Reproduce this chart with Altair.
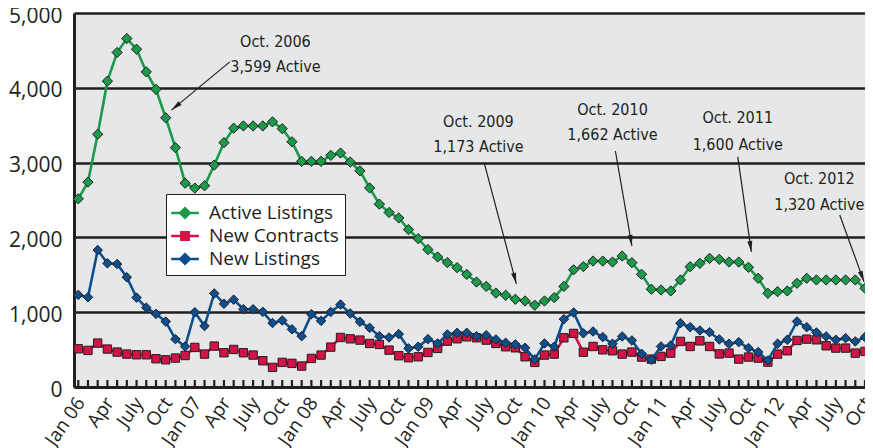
import math
import altair as alt
import pandas as pd

# ---------------- data ----------------
months = list(range(82))  # 0 = Jan 2006 ... 81 = Oct 2012

active_listings = [
    2516, 2739, 3379, 4089, 4472, 4659, 4516, 4213, 3979, 3599, 3200, 2725,
    2659, 2690, 2967, 3267, 3460, 3490, 3490, 3490, 3545, 3453, 3278, 3017,
    3017, 3017, 3097, 3128, 3008, 2890, 2661, 2445, 2333, 2260, 2105, 1983,
    1837, 1738, 1663, 1595, 1505, 1403, 1345, 1256, 1226, 1173, 1150, 1093,
    1150, 1195, 1345, 1567, 1610, 1684, 1684, 1671, 1751, 1662, 1507, 1307,
    1297, 1284, 1431, 1608, 1653, 1720, 1707, 1671, 1671, 1600, 1453, 1253,
    1275, 1284, 1387, 1453, 1431, 1431, 1431, 1431, 1431, 1320,
]
new_contracts = [
    511, 489, 587, 507, 467, 440, 431, 431, 378, 364, 387, 421,
    529, 440, 547, 458, 502, 458, 427, 351, 262, 329, 316, 280,
    382, 427, 533, 662, 644, 627, 582, 569, 493, 418, 391, 404,
    462, 516, 613, 645, 671, 658, 627, 582, 538, 524, 404, 329,
    427, 440, 658, 716, 465, 542, 497, 484, 440, 467, 400, 373,
    409, 453, 609, 542, 617, 542, 442, 453, 373, 400, 387, 333,
    440, 484, 622, 640, 631, 551, 520, 520, 453, 476,
]
new_listings = [
    1231, 1200, 1831, 1653, 1644, 1467, 1195, 1061, 977, 875, 640, 541,
    1000, 815, 1251, 1113, 1168, 1040, 1040, 1005, 855, 890, 771, 680,
    973, 884, 1004, 1102, 982, 871, 791, 680, 662, 707, 516, 538,
    640, 582, 702, 724, 724, 680, 693, 636, 591, 569, 524, 369,
    582, 538, 907, 996, 718, 742, 667, 578, 676, 622, 444, 364,
    542, 556, 853, 800, 756, 733, 636, 578, 600, 520, 467, 356,
    578, 631, 876, 800, 729, 676, 631, 653, 609, 667,
]

tick_labels = [
    "Jan 06", "Apr", "July", "Oct", "Jan 07", "Apr", "July", "Oct",
    "Jan 08", "Apr", "July", "Oct", "Jan 09", "Apr", "July", "Oct",
    "Jan 10", "Apr", "July", "Oct", "Jan 11", "Apr", "July", "Oct",
    "Jan 12", "Apr", "July", "Oct",
]
tick_values = [3 * i for i in range(len(tick_labels))]
y_ticks = [0, 1000, 2000, 3000, 4000, 5000]

series_names = ["Active Listings", "New Contracts", "New Listings"]
series_colors = ["#1a9a4a", "#d31245", "#0b4f8e"]
series_shapes = ["diamond", "square", "diamond"]
series_sizes = [105, 70, 90]

# annotations: two text lines + arrow (start -> tip), all in data units
ann_line1 = ["Oct. 2006", "Oct. 2009", "Oct. 2010", "Oct. 2011", "Oct. 2012"]
ann_line2 = ["3,599 Active", "1,173 Active", "1,662 Active", "1,600 Active", "1,320 Active"]
ann_text_m = [20.3, 41.2, 55.0, 67.9, 76.3]
ann_text_v1 = [4610, 3542, 3702, 3595, 2781]
ann_text_v2 = [4276, 3208, 3368, 3241, 2434]
arrow_m1 = [15.6, 41.8, 55.3, 67.9, 78.4]
arrow_v1 = [4347, 2994, 3155, 3076, 2300]
arrow_m2 = [9.6, 45.1, 57.0, 69.3, 80.9]
arrow_v2 = [3702, 1379, 1886, 1806, 1406]

# ---------------- layout ----------------
W, H = 791, 374
X_DOMAIN = [-0.44, 81]
Y_DOMAIN = [0, 5000]
DARK = "#231f20"
AXIS_FONT = "Open Sans"
NOTE_FONT = "'Liberation Sans Narrow', 'DejaVu Sans Condensed', 'Arial Narrow', sans-serif"

px_per_m = W / (X_DOMAIN[1] - X_DOMAIN[0])
px_per_v = H / (Y_DOMAIN[1] - Y_DOMAIN[0])

rows = []
for name, vals in zip(series_names, [active_listings, new_contracts, new_listings]):
    for m, v in zip(months, vals):
        rows.append({"m": m, "value": v, "series": name})
df = pd.DataFrame(rows)

ann_df = pd.DataFrame(
    {"m": ann_text_m * 2, "v": ann_text_v1 + ann_text_v2, "t": ann_line1 + ann_line2}
)
angles = []
for a, b, c, d in zip(arrow_m1, arrow_v1, arrow_m2, arrow_v2):
    dx = (c - a) * px_per_m
    dy = -(d - b) * px_per_v
    angles.append(math.degrees(math.atan2(dx, -dy)) % 360)
arrow_df = pd.DataFrame(
    {"m1": arrow_m1, "v1": arrow_v1, "m2": arrow_m2, "v2": arrow_v2, "ang": angles}
)
comb_df = pd.DataFrame({"m": months})

x_scale = alt.Scale(domain=X_DOMAIN, nice=False, zero=False)
y_scale = alt.Scale(domain=Y_DOMAIN, nice=False)

x_axis = alt.Axis(
    values=tick_values,
    labelExpr="[" + ",".join("'%s'" % t for t in tick_labels) + "][round(datum.value/3)]",
    labelAngle=305, labelAlign="right", labelBaseline="middle",
    labelFont=AXIS_FONT, labelFontSize=19, labelColor=DARK, labelPadding=12,
    labelOffset=2,
    labelOverlap=False, labelBound=False, labelFlush=False,
    ticks=False, grid=False, domainColor=DARK, domainWidth=3, title=None,
)
y_axis = alt.Axis(
    values=y_ticks, labelExpr="format(datum.value, ',.0f')",
    labelFont=AXIS_FONT, labelFontSize=21, labelColor=DARK, labelPadding=12,
    labelOffset=3, labelBaseline="middle", labelFlush=False, labelOverlap=False,
    ticks=False, grid=True, gridColor=DARK, gridWidth=2.5, gridOpacity=1,
    domainColor=DARK, domainWidth=3, title=None,
)


def X(field):
    return alt.X(field, type="quantitative", scale=x_scale, axis=x_axis)


def Y(field):
    return alt.Y(field, type="quantitative", scale=y_scale, axis=y_axis)


color_scale = alt.Scale(domain=series_names, range=series_colors)

PATH_DIA = "M-1.2,0L-0.42,0M0.42,0L1.2,0M0,-0.42L0.42,0L0,0.42L-0.42,0Z"
PATH_SQ = "M-1.2,0L-0.32,0M0.32,0L1.2,0M-0.32,-0.32L0.32,-0.32L0.32,0.32L-0.32,0.32Z"
shape_scale = alt.Scale(domain=series_names, range=[PATH_DIA, PATH_SQ, PATH_DIA])

legend = alt.Legend(
    title=None, orient="none", legendX=92, legendY=181, direction="vertical",
    fillColor="white", strokeColor=DARK, padding=6,
    labelFont=AXIS_FONT, labelFontSize=19, labelColor=DARK, labelLimit=400,
    labelOffset=11, symbolSize=529, symbolStrokeWidth=2.5, rowPadding=0,
    symbolOpacity=1,
)

base = alt.Chart(df)
layers = []

# legend-only layer (no data drawn) - first, so its legend settings win
layers.append(
    base.transform_filter("false").mark_point(filled=True, strokeWidth=2.5, opacity=1).encode(
        x=X("m"), y=Y("value"),
        color=alt.Color("series:N", scale=color_scale, legend=legend),
        stroke=alt.Stroke("series:N", scale=color_scale, legend=legend),
        shape=alt.Shape("series:N", scale=shape_scale, legend=legend),
    )
)

# monthly comb of ticks standing on the baseline
layers.append(
    alt.Chart(comb_df).mark_rule(color=DARK, strokeWidth=2.2).encode(
        x=X("m"), y=alt.value(H - 7), y2=alt.value(H),
    )
)

for idx in [1, 2, 0]:
    name = series_names[idx]
    sub = base.transform_filter(alt.datum.series == name)
    layers.append(
        sub.mark_line(strokeWidth=2.6).encode(
            x=X("m"), y=Y("value"),
            color=alt.Color("series:N", scale=color_scale, legend=None),
        )
    )
    layers.append(
        sub.mark_point(
            shape=series_shapes[idx], filled=True, size=series_sizes[idx],
            stroke=DARK, strokeWidth=1, opacity=1,
        ).encode(
            x=X("m"), y=Y("value"),
            fill=alt.Fill("series:N", scale=color_scale, legend=None),
        )
    )

layers.append(
    alt.Chart(arrow_df).mark_rule(color=DARK, strokeWidth=1.2).encode(
        x=X("m1"), y=Y("v1"), x2="m2:Q", y2="v2:Q",
    )
)
layers.append(
    alt.Chart(arrow_df).mark_point(
        shape="M0,0L0.5,2.2L-0.5,2.2Z", filled=True, color=DARK, size=100, opacity=1
    ).encode(
        x=X("m2"), y=Y("v2"), angle=alt.Angle("ang:Q", scale=None),
    )
)
layers.append(
    alt.Chart(ann_df).mark_text(
        font=NOTE_FONT, fontSize=16, color=DARK, align="center", baseline="middle"
    ).encode(x=X("m"), y=Y("v"), text="t:N")
)

chart = (
    alt.layer(*layers)
    .properties(
        width=W, height=H,
        autosize=alt.AutoSizeParams(type="none"),
        padding={"left": 66, "top": 5, "right": 0, "bottom": 61},
        background="white",
    )
    .configure_view(stroke=None, fill="#e6e7e8")
)

chart.save("out.html", embed_options={"renderer": "svg", "actions": False})
